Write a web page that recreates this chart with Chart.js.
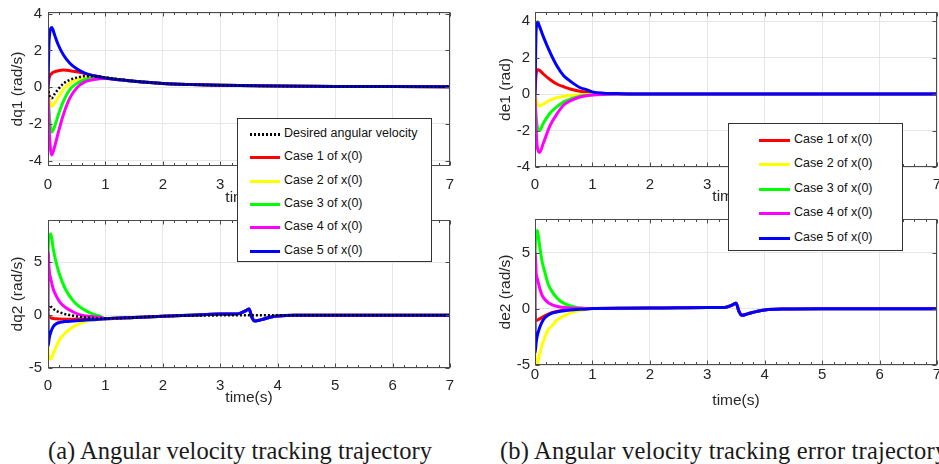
<!DOCTYPE html>
<html>
<head>
<meta charset="utf-8">
<script src="https://cdn.jsdelivr.net/npm/chart.js@4.4.0/dist/chart.umd.min.js"></script>
<style>
  html, body { margin: 0; padding: 0; background: #fff; }
  #page { position: relative; width: 939px; height: 464px; overflow: hidden; background: #fff; }
  canvas { position: absolute; }
  .legend { position: absolute; background: #fff; border: 1px solid #333; box-sizing: border-box;
            font-family: "Liberation Sans", Arial, sans-serif; font-size: 12.5px; color: #111; }
  .legend .row { position: absolute; left: 0; right: 0; height: 20px; }
  .legend .sample { position: absolute; top: 9px; height: 3px; }
  .legend .txt { position: absolute; top: 2px; white-space: nowrap; }
  .caption { position: absolute; white-space: nowrap; font-family: "Liberation Serif", "DejaVu Serif", serif;
             color: #1a1a1a; font-size: 20px; }
</style>
</head>
<body>
<div id="page">
  <canvas id="c1" width="470" height="210" style="left:0;top:0"></canvas>
  <canvas id="c2" width="469" height="210" style="left:470px;top:0"></canvas>
  <canvas id="c3" width="470" height="210" style="left:0;top:200px"></canvas>
  <canvas id="c4" width="469" height="210" style="left:470px;top:200px"></canvas>
  <div class="legend" id="leg1" style="left:237px;top:118px;width:195px;height:144px"></div>
  <div class="legend" id="leg2" style="left:728px;top:123px;width:175px;height:128px"></div>
  <div class="caption" id="capA" style="left:48px;top:437px">(a) Angular velocity tracking trajectory</div>
  <div class="caption" id="capB" style="left:500px;top:437px">(b) Angular velocity tracking error trajectory</div>
</div>
<script>
// ---- data ----
const timeTicks = [0, 1, 2, 3, 4, 5, 6, 7];
const dq1Ticks = [-4, -2, 0, 2, 4];
const de1Ticks = [-4, -2, 0, 2, 4];
const dq2Ticks = [-5, 0, 5];
const de2Ticks = [-5, 0, 5];

const caseNames = ['Case 1 of x(0)', 'Case 2 of x(0)', 'Case 3 of x(0)', 'Case 4 of x(0)', 'Case 5 of x(0)'];
const desiredName = 'Desired angular velocity';

// (a) top: dq1
const tDq1 = [0, 0.02, 0.065, 0.12, 0.18, 0.27, 0.38, 0.5, 0.65, 0.8, 1.0, 1.25, 1.5, 2, 2.5, 3, 4, 5, 6, 7];
const dq1Desired = [0, -0.4, -0.6, -0.35, -0.1, 0.2, 0.4, 0.52, 0.6, 0.6, 0.52, 0.42, 0.33, 0.2, 0.14, 0.1, 0.06, 0.04, 0.03, 0.02];
const dq1Case1 = [0, 0.5, 0.75, 0.85, 0.9, 0.93, 0.9, 0.84, 0.74, 0.62, 0.5, 0.4, 0.32, 0.2, 0.14, 0.1, 0.06, 0.04, 0.03, 0.02];
const dq1Case2 = [0, -0.6, -1.05, -0.85, -0.55, -0.12, 0.2, 0.42, 0.55, 0.57, 0.52, 0.41, 0.32, 0.2, 0.14, 0.1, 0.06, 0.04, 0.03, 0.02];
const dq1Case3 = [0, -1.4, -2.45, -2.1, -1.5, -0.76, -0.13, 0.2, 0.42, 0.5, 0.5, 0.4, 0.32, 0.2, 0.14, 0.1, 0.06, 0.04, 0.03, 0.02];
const dq1Case4 = [0, -2.2, -3.7, -3.2, -2.47, -1.48, -0.6, -0.04, 0.3, 0.42, 0.47, 0.4, 0.32, 0.2, 0.14, 0.1, 0.06, 0.04, 0.03, 0.02];
const dq1Case5 = [0, 2.6, 3.25, 2.8, 2.3, 1.75, 1.3, 1.0, 0.75, 0.62, 0.5, 0.4, 0.32, 0.2, 0.14, 0.1, 0.06, 0.04, 0.03, 0.02];

// (a) bottom: dq2
const tDq2 = [0, 0.003, 0.02, 0.05, 0.09, 0.15, 0.21, 0.3, 0.44, 0.55, 0.67, 0.8, 0.9,
              1.0, 1.5, 2.0, 2.5, 3.0, 3.3, 3.42, 3.5, 3.55, 3.6, 3.7, 3.85, 4.0, 4.3, 5, 6, 7];
const dq2Desired = [0, 0.5, 0.95, 0.8, 0.6, 0.4, 0.25, 0.1, -0.05, -0.15, -0.22, -0.27, -0.3,
                    -0.32, -0.22, -0.1, -0.04, -0.02, -0.01, 0, 0, 0, 0, 0, 0, 0, 0, 0, 0, 0];
const dq2Case1 = [0, 0, -0.15, -0.25, -0.32, -0.35, -0.37, -0.38, -0.38, -0.37, -0.36, -0.35, -0.34,
                  -0.33, -0.22, -0.1, 0.0, 0.1, 0.12, 0.35, 0.57, -0.2, -0.55, -0.45, -0.22, -0.08, 0, 0, 0, 0];
const dq2Case2 = [0, -3.2, -4.0, -4.15, -3.65, -2.9, -2.25, -1.7, -1.1, -0.8, -0.58, -0.45, -0.38,
                  -0.33, -0.22, -0.1, 0.0, 0.1, 0.12, 0.35, 0.57, -0.2, -0.55, -0.45, -0.22, -0.08, 0, 0, 0, 0];
const dq2Case3 = [0, 6, 7.4, 7.7, 6.3, 4.8, 3.7, 2.5, 1.35, 0.8, 0.38, 0.08, -0.08,
                  -0.33, -0.22, -0.1, 0.0, 0.1, 0.12, 0.35, 0.57, -0.2, -0.55, -0.45, -0.22, -0.08, 0, 0, 0, 0];
const dq2Case4 = [0, 6, 4.3, 3.4, 2.5, 1.75, 1.2, 0.75, 0.3, 0.05, -0.08, -0.15, -0.2,
                  -0.33, -0.22, -0.1, 0.0, 0.1, 0.12, 0.35, 0.57, -0.2, -0.55, -0.45, -0.22, -0.08, 0, 0, 0, 0];
const dq2Case5 = [0, -2.9, -2.2, -1.6, -1.1, -0.8, -0.68, -0.6, -0.55, -0.5, -0.47, -0.43, -0.4,
                  -0.33, -0.22, -0.1, 0.0, 0.1, 0.12, 0.35, 0.57, -0.2, -0.55, -0.45, -0.22, -0.08, 0, 0, 0, 0];

// (b) top: de1
const tDe1 = [0, 0.02, 0.045, 0.08, 0.145, 0.26, 0.38, 0.5, 0.61, 0.78, 0.9, 1.0, 1.2, 1.5, 2, 3, 4, 5, 6, 7];
const de1Case1 = [0, 1.1, 1.33, 1.3, 1.1, 0.8, 0.55, 0.4, 0.28, 0.15, 0.1, 0.06, 0.02, 0.01, 0, 0, 0, 0, 0, 0];
const de1Case2 = [0, -0.3, -0.55, -0.65, -0.55, -0.35, -0.2, -0.12, -0.07, -0.04, -0.02, -0.01, 0, 0, 0, 0, 0, 0, 0, 0];
const de1Case3 = [0, -1.2, -1.85, -2.0, -1.6, -1.05, -0.7, -0.42, -0.28, -0.12, -0.07, -0.04, -0.01, 0, 0, 0, 0, 0, 0, 0];
const de1Case4 = [0, -2.0, -3.0, -3.2, -2.7, -1.75, -1.1, -0.6, -0.38, -0.16, -0.09, -0.05, -0.02, 0, 0, 0, 0, 0, 0, 0];
const de1Case5 = [0, 3.5, 3.95, 3.7, 3.15, 2.3, 1.55, 1.0, 0.72, 0.36, 0.24, 0.12, 0.05, 0.02, 0, 0, 0, 0, 0, 0];

// (b) bottom: de2
const tDe2 = [0, 0.003, 0.02, 0.04, 0.06, 0.09, 0.12, 0.17, 0.23, 0.29, 0.36, 0.44, 0.52, 0.61, 0.73, 0.85,
              1.0, 1.5, 2.0, 2.5, 3.0, 3.3, 3.42, 3.5, 3.55, 3.6, 3.7, 3.85, 4.0, 4.3, 5, 6, 7];
const de2Case1 = [0, -0.6, -1.05, -1.0, -0.95, -0.87, -0.78, -0.62, -0.47, -0.35, -0.25, -0.17, -0.12, -0.08, -0.04, -0.01,
                  0.03, 0.05, 0.07, 0.1, 0.12, 0.12, 0.3, 0.5, -0.2, -0.58, -0.45, -0.25, -0.1, -0.02, 0, 0, 0];
const de2Case2 = [0, -4.2, -4.9, -4.95, -4.5, -3.85, -3.3, -2.55, -1.85, -1.55, -1.12, -0.82, -0.58, -0.38, -0.2, -0.1,
                  0.03, 0.05, 0.07, 0.1, 0.12, 0.12, 0.3, 0.5, -0.2, -0.58, -0.45, -0.25, -0.1, -0.02, 0, 0, 0];
const de2Case3 = [0, 5, 6.5, 6.97, 6.4, 5.3, 4.3, 3.3, 2.2, 1.6, 1.1, 0.7, 0.45, 0.28, 0.13, 0.06,
                  0.03, 0.05, 0.07, 0.1, 0.12, 0.12, 0.3, 0.5, -0.2, -0.58, -0.45, -0.25, -0.1, -0.02, 0, 0, 0];
const de2Case4 = [0, 5, 3.2, 2.7, 2.3, 1.7, 1.25, 0.85, 0.55, 0.38, 0.25, 0.17, 0.12, 0.08, 0.05, 0.04,
                  0.03, 0.05, 0.07, 0.1, 0.12, 0.12, 0.3, 0.5, -0.2, -0.58, -0.45, -0.25, -0.1, -0.02, 0, 0, 0];
const de2Case5 = [0, -3.9, -3.0, -2.4, -2.0, -1.55, -1.2, -0.8, -0.55, -0.4, -0.3, -0.22, -0.16, -0.11, -0.06, -0.03,
                  0.03, 0.05, 0.07, 0.1, 0.12, 0.12, 0.3, 0.5, -0.2, -0.58, -0.45, -0.25, -0.1, -0.02, 0, 0, 0];

// ---- styles ----
const caseColors = ['#ff0000', '#ffff00', '#00ff00', '#ff00ff', '#0000ff'];
const textColor = '#262626';
const gridColor = '#e6e6e6';
const boxColor = '#4a4a4a';

Chart.defaults.font.family = '"Liberation Sans", Arial, sans-serif';
Chart.defaults.color = textColor;

// MATLAB style box with inward ticks
const axesBox = {
  id: 'axesBox',
  afterDatasetsDraw(chart) {
    const { ctx, chartArea: a, scales: { x, y } } = chart;
    const L = Math.round(a.left) + 0.5, R = Math.round(a.right) - 0.5;
    const T = Math.round(a.top) + 0.5, B = Math.round(a.bottom) - 0.5;
    ctx.save();
    ctx.strokeStyle = boxColor;
    ctx.lineWidth = 1;
    ctx.beginPath();
    for (let i = 0; i <= 35; i++) {
      const px = Math.round(x.getPixelForValue(i * 0.2)) + 0.5;
      const len = i % 5 === 0 ? 4 : 2.5;
      ctx.moveTo(px, B); ctx.lineTo(px, B - len);
      ctx.moveTo(px, T); ctx.lineTo(px, T + len);
    }
    y.ticks.forEach(t => {
      const py = Math.round(y.getPixelForValue(t.value)) + 0.5;
      ctx.moveTo(L, py); ctx.lineTo(L + 4, py);
      ctx.moveTo(R, py); ctx.lineTo(R - 4, py);
    });
    ctx.stroke();
    ctx.strokeRect(L, T, R - L, B - T);
    ctx.restore();
  }
};

function lineSet(label, time, values, color, order, dotted) {
  return {
    label,
    data: time.map((t, i) => ({ x: t, y: values[i] })),
    borderColor: color,
    borderWidth: dotted ? 2.5 : 3,
    borderDash: dotted ? [2, 2] : [],
    pointRadius: 0,
    cubicInterpolationMode: 'monotone',
    fill: false,
    order
  };
}

function casesFor(time, arrays) {
  return arrays.map((vals, i) => lineSet(caseNames[i], time, vals, caseColors[i], 5 - i, false));
}

function makePanel(id, datasets, yMin, yMax, yTicks, yTitle, g) {
  return new Chart(document.getElementById(id), {
    type: 'line',
    data: { datasets },
    options: {
      responsive: false,
      animation: false,
      events: [],
      layout: { autoPadding: false, padding: { top: g.top, right: g.right, left: 0, bottom: 0 } },
      plugins: { legend: { display: false }, tooltip: { enabled: false } },
      scales: {
        x: {
          type: 'linear', min: 0, max: 7,
          afterBuildTicks: s => { s.ticks = timeTicks.map(v => ({ value: v })); },
          afterFit: s => { s.height = g.xH; s.paddingLeft = 0; s.paddingRight = 0; },
          grid: { color: gridColor, drawTicks: false },
          border: { display: false },
          ticks: { font: { size: 15 }, padding: g.xTickPad, maxRotation: 0 },
          title: { display: true, text: 'time(s)', font: { size: 15.5 }, padding: { top: 0, bottom: g.xTitlePad } }
        },
        y: {
          type: 'linear', min: yMin, max: yMax,
          afterBuildTicks: s => { s.ticks = yTicks.map(v => ({ value: v })); },
          afterFit: s => { s.width = g.yW; s.paddingTop = 0; s.paddingBottom = 0; },
          grid: { color: gridColor, drawTicks: false },
          border: { display: false },
          ticks: { font: { size: 15 }, padding: g.yTickPad },
          title: { display: true, text: yTitle, font: { size: 15.5 }, padding: { top: g.yTitlePad, bottom: 0 } }
        }
      }
    },
    plugins: [axesBox]
  });
}

makePanel('c1',
  [lineSet(desiredName, tDq1, dq1Desired, '#000', 0, true),
   ...casesFor(tDq1, [dq1Case1, dq1Case2, dq1Case3, dq1Case4, dq1Case5])],
  -4.3, 4.1, dq1Ticks, 'dq1 (rad/s)',
  { top: 12, right: 20, yW: 48, xH: 44, xTickPad: 10, xTitlePad: 3, yTickPad: 6, yTitlePad: 8 });

makePanel('c2',
  casesFor(tDe1, [de1Case1, de1Case2, de1Case3, de1Case4, de1Case5]),
  -4, 4.5, de1Ticks, 'de1 (rad)',
  { top: 12, right: 2, yW: 65, xH: 43, xTickPad: 9, xTitlePad: 4, yTickPad: 5, yTitlePad: 26 });

makePanel('c3',
  [lineSet(desiredName, tDq2, dq2Desired, '#000', 0, true),
   ...casesFor(tDq2, [dq2Case1, dq2Case2, dq2Case3, dq2Case4, dq2Case5])],
  -5, 9, dq2Ticks, 'dq2 (rad/s)',
  { top: 20, right: 20, yW: 48, xH: 42, xTickPad: 9, xTitlePad: 3, yTickPad: 6, yTitlePad: 8 });

makePanel('c4',
  casesFor(tDe2, [de2Case1, de2Case2, de2Case3, de2Case4, de2Case5]),
  -5, 8, de2Ticks, 'de2 (rad/s)',
  { top: 19, right: 2, yW: 65, xH: 45, xTickPad: 1, xTitlePad: 0, yTickPad: 5, yTitlePad: 26 });

// ---- legends (HTML, from the same names/colours) ----
function buildLegend(id, entries, firstCenter, rowH, sampleLeft, sampleW, textLeft) {
  const box = document.getElementById(id);
  entries.forEach((e, i) => {
    const row = document.createElement('div');
    row.className = 'row';
    row.style.top = (firstCenter + i * rowH - 10) + 'px';
    const s = document.createElement('div');
    s.className = 'sample';
    s.style.left = sampleLeft + 'px';
    s.style.width = sampleW + 'px';
    s.style.background = e.dotted
      ? 'repeating-linear-gradient(90deg, #000 0 2px, transparent 2px 4px)'
      : e.color;
    const t = document.createElement('div');
    t.className = 'txt';
    t.style.left = textLeft + 'px';
    t.textContent = e.name;
    row.appendChild(s);
    row.appendChild(t);
    box.appendChild(row);
  });
}
const caseEntries = caseNames.map((n, i) => ({ name: n, color: caseColors[i] }));
buildLegend('leg1', [{ name: desiredName, dotted: true }, ...caseEntries], 15, 23.33, 12, 30, 46);
buildLegend('leg2', caseEntries, 16, 24.4, 30, 31, 65);

// captions: size (a) to its width in the figure, (b) uses the same size, a touch wider
const capA = document.getElementById('capA');
const capSize = 20 * 384 / capA.getBoundingClientRect().width;
capA.style.fontSize = capSize + 'px';
const capB = document.getElementById('capB');
capB.style.fontSize = capSize + 'px';
capB.style.letterSpacing = '0.18px';
</script>
</body>
</html>
